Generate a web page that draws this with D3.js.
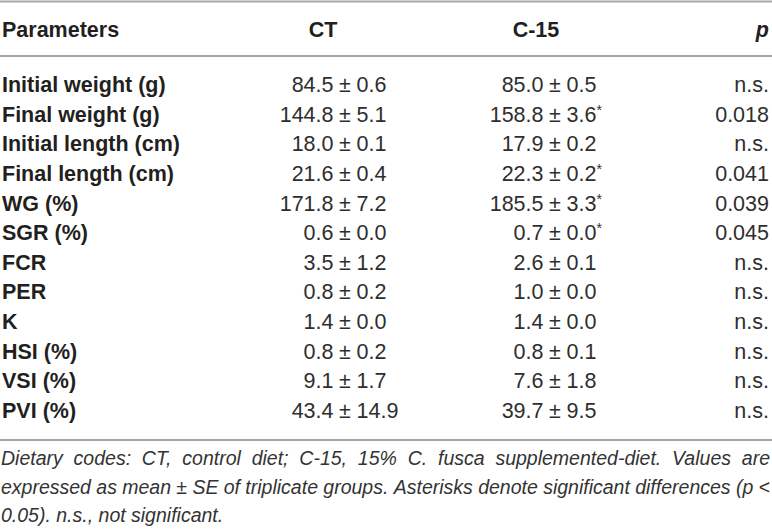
<!DOCTYPE html>
<html>
<head>
<meta charset="utf-8">
<script src="https://cdn.jsdelivr.net/npm/d3@7"></script>
<style>
  body { margin: 0; background: #fff; }
  svg { display: block; font-family: "Liberation Sans", Arial, sans-serif; }
</style>
</head>
<body>
<div id="table"></div>
<script>
const parameters = ["Initial weight (g)", "Final weight (g)", "Initial length (cm)", "Final length (cm)",
    "WG (%)", "SGR (%)", "FCR", "PER", "K", "HSI (%)", "VSI (%)", "PVI (%)"]
const ctMean = [84.5, 144.8, 18.0, 21.6, 171.8, 0.6, 3.5, 0.8, 1.4, 0.8, 9.1, 43.4]
const ctSE = [0.6, 5.1, 0.1, 0.4, 7.2, 0.0, 1.2, 0.2, 0.0, 0.2, 1.7, 14.9]
const c15Mean = [85.0, 158.8, 17.9, 22.3, 185.5, 0.7, 2.6, 1.0, 1.4, 0.8, 7.6, 39.7]
const c15SE = [0.5, 3.6, 0.2, 0.2, 3.3, 0.0, 0.1, 0.0, 0.0, 0.1, 1.8, 9.5]
const c15Sig = [false, true, false, true, true, true, false, false, false, false, false, false]
const pValues = ["n.s.", "0.018", "n.s.", "0.041", "0.039", "0.045", "n.s.", "n.s.", "n.s.", "n.s.", "n.s.", "n.s."]
const headers = ["Parameters", "CT", "C-15", "p"]
const footnote = [
    "Dietary codes: CT, control diet; C-15, 15% C. fusca supplemented-diet. Values are",
    "expressed as mean ± SE of triplicate groups. Asterisks denote significant differences (p <",
    "0.05). n.s., not significant."
]

function drawTable() {
    let dimensions = { width: 772, height: 530 }

    const svg = d3.select("#table").append("svg")
        .attr("width", dimensions.width)
        .attr("height", dimensions.height)

    const fmt = d3.format(".1f")

    // row baselines
    const y = d3.scalePoint()
        .domain(parameters)
        .range([92, 418])

    // header centres / anchors
    const headerX = d3.scaleOrdinal()
        .domain(headers)
        .range([2, 323, 536, 769])
    const headerAnchor = d3.scaleOrdinal()
        .domain(headers)
        .range(["start", "middle", "middle", "end"])

    // position of the ± sign in each value column
    const pmX = d3.scaleOrdinal()
        .domain(["CT", "C-15"])
        .range([345, 555])

    const textColor = "#231f20"
    const valueColor = "#2e2e2e"
    const fontSize = 21.5

    // rules
    const rules = [1.5, 56, 440]
    svg.selectAll("line.rule")
        .data(rules)
        .enter()
        .append("line")
        .attr("class", "rule")
        .attr("x1", 0)
        .attr("x2", dimensions.width)
        .attr("y1", d => d)
        .attr("y2", d => d)
        .style("stroke", "#a6a6a6")
        .style("stroke-width", 2)

    // header
    svg.selectAll("text.header")
        .data(headers)
        .enter()
        .append("text")
        .attr("class", "header")
        .attr("x", d => headerX(d))
        .attr("y", 37)
        .attr("text-anchor", d => headerAnchor(d))
        .style("font-size", fontSize + "px")
        .style("font-weight", "bold")
        .style("font-style", d => d == "p" ? "italic" : "normal")
        .style("fill", textColor)
        .text(d => d)

    // parameter labels
    svg.selectAll("text.param")
        .data(parameters)
        .enter()
        .append("text")
        .attr("class", "param")
        .attr("x", 2)
        .attr("y", d => y(d))
        .style("font-size", fontSize + "px")
        .style("font-weight", "bold")
        .style("fill", textColor)
        .text(d => d)

    const rows = parameters.map((p, i) => ({
        param: p,
        cols: [
            { key: "CT", mean: ctMean[i], se: ctSE[i], sig: false },
            { key: "C-15", mean: c15Mean[i], se: c15SE[i], sig: c15Sig[i] }
        ],
        p: pValues[i]
    }))

    const cells = svg.selectAll("g.row")
        .data(rows)
        .enter()
        .append("g")
        .attr("class", "row")
        .attr("transform", d => `translate(0,${y(d.param)})`)
        .selectAll("g.cell")
        .data(d => d.cols)
        .enter()
        .append("g")
        .attr("class", "cell")
        .attr("transform", d => `translate(${pmX(d.key)},0)`)
        .style("font-size", fontSize + "px")
        .style("fill", valueColor)

    cells.append("text")
        .attr("x", -11.5)
        .attr("text-anchor", "end")
        .text(d => fmt(d.mean))
    cells.append("text")
        .attr("x", 0)
        .attr("text-anchor", "middle")
        .text("±")
    const se = cells.append("text")
        .attr("x", 11.5)
        .attr("text-anchor", "start")
        .text(d => fmt(d.se))
    se.filter(d => d.sig)
        .append("tspan")
        .attr("dy", -7)
        .style("font-size", "14px")
        .text("*")

    // p values
    svg.selectAll("text.pval")
        .data(rows)
        .enter()
        .append("text")
        .attr("class", "pval")
        .attr("x", 769)
        .attr("y", d => y(d.param))
        .attr("text-anchor", "end")
        .style("font-size", fontSize + "px")
        .style("fill", valueColor)
        .text(d => d.p)

    // footnote, first two lines justified
    const noteY = d3.scalePoint()
        .domain(d3.range(footnote.length))
        .range([465, 522])

    footnote.forEach((line, i) => {
        const words = line.split(" ")
        const g = svg.append("g")
            .style("font-size", "19.5px")
            .style("font-style", "italic")
            .style("fill", "#333")
        const t = g.selectAll("text")
            .data(words)
            .enter()
            .append("text")
            .attr("y", noteY(i))
            .text(d => d)
        const widths = []
        t.each(function() { widths.push(this.getComputedTextLength()) })
        const total = d3.sum(widths)
        const justify = i < footnote.length - 1
        const gap = justify ? (770 - 1 - total) / (words.length - 1) : 5.4
        let x = 1
        t.attr("x", (d, j) => {
            const cur = x
            x += widths[j] + gap
            return cur
        })
    })
}

drawTable()
</script>
</body>
</html>
